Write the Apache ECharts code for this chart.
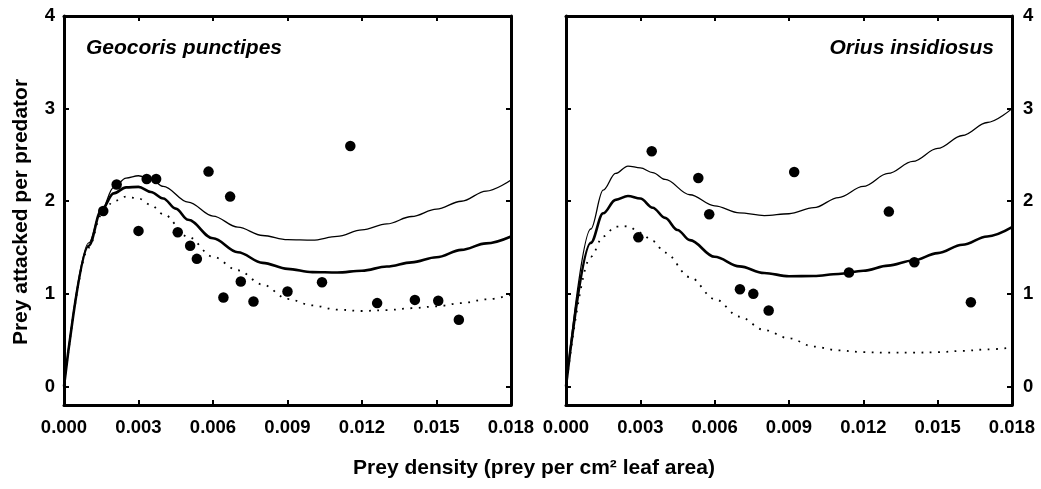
<!DOCTYPE html>
<html>
<head>
<meta charset="utf-8">
<script src="https://cdn.jsdelivr.net/npm/echarts@6/dist/echarts.min.js"></script>
<style>
html,body{margin:0;padding:0;background:#fff;}
#c{width:1041px;height:489px;}
</style>
</head>
<body>
<div id="c"></div>
<script>
// ---------- data ----------
const xTickValues = [0, 0.003, 0.006, 0.009, 0.012, 0.015, 0.018];
const yTickValues = [0, 1, 2, 3, 4];

const panelTitles = ['Geocoris punctipes', 'Orius insidiosus'];
const yTitle = 'Prey attacked per predator';
const xTitle = 'Prey density (prey per cm\u00B2 leaf area)';

// Geocoris punctipes
const geoPoints = [
  [0.00158, 1.895], [0.00212, 2.18], [0.00333, 2.24], [0.00371, 2.24],
  [0.00582, 2.32], [0.00669, 2.05], [0.0030, 1.68], [0.00458, 1.665],
  [0.00508, 1.52], [0.00535, 1.378], [0.00712, 1.133], [0.00642, 0.96],
  [0.00763, 0.917], [0.0090, 1.025], [0.01039, 1.126], [0.01261, 0.90],
  [0.01413, 0.935], [0.01507, 0.925], [0.01590, 0.72], [0.01153, 2.597]
];
const geoUpper = [
  [0, 0], [0.001, 1.55], [0.0015, 1.9], [0.002, 2.15], [0.0025, 2.25], [0.003, 2.275],
  [0.0035, 2.24], [0.004, 2.16], [0.005, 1.99], [0.006, 1.84], [0.007, 1.72],
  [0.008, 1.63], [0.009, 1.585], [0.010, 1.58], [0.011, 1.62], [0.012, 1.69],
  [0.013, 1.755], [0.014, 1.835], [0.015, 1.915], [0.016, 2.0], [0.017, 2.11], [0.018, 2.23]
];
const geoMid = [
  [0, 0], [0.001, 1.52], [0.0015, 1.9], [0.002, 2.085], [0.0025, 2.15], [0.003, 2.155],
  [0.0035, 2.1], [0.004, 2.03], [0.0045, 1.92], [0.005, 1.8], [0.006, 1.6], [0.007, 1.45],
  [0.008, 1.335], [0.009, 1.27], [0.010, 1.235], [0.011, 1.23], [0.012, 1.25],
  [0.013, 1.295], [0.014, 1.34], [0.015, 1.395], [0.016, 1.475], [0.017, 1.545], [0.018, 1.62]
];
const geoLower = [
  [0, 0], [0.001, 1.5], [0.0015, 1.85], [0.002, 2.0], [0.0025, 2.05], [0.003, 2.03],
  [0.0035, 1.96], [0.004, 1.86], [0.005, 1.615], [0.006, 1.4], [0.007, 1.255],
  [0.008, 1.1], [0.009, 0.945], [0.010, 0.875], [0.011, 0.83], [0.012, 0.815],
  [0.013, 0.825], [0.014, 0.845], [0.015, 0.865], [0.016, 0.9], [0.017, 0.94], [0.018, 0.99]
];

// Orius insidiosus
const oriPoints = [
  [0.00346, 2.54], [0.00534, 2.25], [0.00921, 2.316], [0.00578, 1.86],
  [0.00292, 1.61], [0.00702, 1.05], [0.00756, 1.0], [0.00818, 0.82],
  [0.01303, 1.888], [0.01142, 1.23], [0.01406, 1.342], [0.01634, 0.91]
];
const oriUpper = [
  [0, 0], [0.001, 1.7], [0.0015, 2.12], [0.002, 2.3], [0.0025, 2.38], [0.003, 2.36],
  [0.0035, 2.31], [0.004, 2.235], [0.005, 2.07], [0.006, 1.95], [0.007, 1.875],
  [0.008, 1.845], [0.009, 1.865], [0.010, 1.93], [0.011, 2.04], [0.012, 2.16],
  [0.013, 2.3], [0.014, 2.43], [0.015, 2.57], [0.016, 2.71], [0.017, 2.85], [0.018, 3.0]
];
const oriMid = [
  [0, 0], [0.001, 1.55], [0.0015, 1.87], [0.002, 2.015], [0.0025, 2.057], [0.003, 2.03],
  [0.0035, 1.93], [0.004, 1.82], [0.0045, 1.69], [0.005, 1.58], [0.006, 1.4],
  [0.007, 1.297], [0.008, 1.225], [0.009, 1.19], [0.010, 1.192], [0.011, 1.215],
  [0.012, 1.25], [0.013, 1.305], [0.014, 1.36], [0.015, 1.44], [0.016, 1.53], [0.017, 1.62], [0.018, 1.72]
];
const oriLower = [
  [0, 0], [0.001, 1.4], [0.0015, 1.62], [0.002, 1.725], [0.0025, 1.73], [0.003, 1.66],
  [0.0035, 1.57], [0.004, 1.445], [0.005, 1.18], [0.006, 0.945], [0.007, 0.755],
  [0.008, 0.61], [0.009, 0.52], [0.010, 0.43], [0.011, 0.39], [0.012, 0.37],
  [0.013, 0.365], [0.014, 0.365], [0.015, 0.37], [0.016, 0.385], [0.017, 0.4], [0.018, 0.42]
];

// ---------- chart ----------
const FONT = '"Liberation Sans", Arial, Helvetica, sans-serif';
const chart = echarts.init(document.getElementById('c'), null, {renderer: 'canvas'});

const axisLine = {show: true, onZero: false, lineStyle: {color: '#000', width: 3}};
const tick = (show) => ({show: show, inside: true, length: 5, lineStyle: {color: '#000', width: 2}});
const labelStyle = {color: '#000', fontSize: 18.5, fontWeight: 'bold', fontFamily: FONT};

function xAx(grid, pos, labels) {
  return {
    type: 'value', gridIndex: grid, position: pos, min: 0, max: 0.018,
    axisLine: axisLine,
    axisTick: Object.assign(tick(true), {customValues: xTickValues}),
    axisLabel: Object.assign({show: labels, margin: 13, customValues: xTickValues,
      formatter: v => v.toFixed(3)}, labelStyle),
    splitLine: {show: false}
  };
}
function yAx(grid, pos, labels, margin) {
  return {
    type: 'value', gridIndex: grid, position: pos, min: -0.2, max: 4,
    axisLine: axisLine,
    axisTick: Object.assign(tick(true), {customValues: yTickValues}),
    axisLabel: Object.assign({show: labels, margin: margin, customValues: yTickValues,
      formatter: v => String(v)}, labelStyle),
    splitLine: {show: false}
  };
}

function curves(xi, yi, pts, up, mid, low) {
  const base = {type: 'line', xAxisIndex: xi, yAxisIndex: yi, showSymbol: false,
    smooth: 0.35, smoothMonotone: 'x', silent: true, z: 2};
  return [
    Object.assign({}, base, {data: up, lineStyle: {color: '#000', width: 1.3}}),
    Object.assign({}, base, {data: mid, lineStyle: {color: '#000', width: 2.6}}),
    Object.assign({}, base, {data: low, lineStyle: {color: '#000', width: 1.8, type: [1.8, 6.5], cap: 'butt'}}),
    {type: 'scatter', xAxisIndex: xi, yAxisIndex: yi, data: pts, symbol: 'circle',
      symbolSize: 10.5, itemStyle: {color: '#000', opacity: 1}, z: 3, silent: true}
  ];
}

const option = {
  animation: false,
  backgroundColor: '#fff',
  grid: [
    {left: 64, top: 16, width: 447, height: 389},
    {left: 566, top: 16, width: 446, height: 389}
  ],
  xAxis: [
    xAx(0, 'bottom', true), xAx(0, 'top', false),
    xAx(1, 'bottom', true), xAx(1, 'top', false)
  ],
  yAxis: [
    yAx(0, 'left', true, 9), yAx(0, 'right', false, 8),
    yAx(1, 'left', false, 8), yAx(1, 'right', true, 11)
  ],
  graphic: [
    {type: 'text', x: 86, y: 48, style: {text: panelTitles[0], fill: '#000',
      font: 'italic bold 21px ' + FONT, textAlign: 'left', textVerticalAlign: 'middle'}},
    {type: 'text', x: 994, y: 48, style: {text: panelTitles[1], fill: '#000',
      font: 'italic bold 21px ' + FONT, textAlign: 'right', textVerticalAlign: 'middle'}},
    {type: 'text', x: 21, y: 212, rotation: Math.PI / 2, style: {text: yTitle, fill: '#000',
      font: 'bold 21px ' + FONT, textAlign: 'center', textVerticalAlign: 'middle'}},
    {type: 'text', x: 534, y: 468, style: {text: xTitle, fill: '#000',
      font: 'bold 21px ' + FONT, textAlign: 'center', textVerticalAlign: 'middle'}}
  ],
  series: [].concat(
    curves(0, 0, geoPoints, geoUpper, geoMid, geoLower),
    curves(2, 2, oriPoints, oriUpper, oriMid, oriLower)
  )
};
chart.setOption(option);
</script>
</body>
</html>
